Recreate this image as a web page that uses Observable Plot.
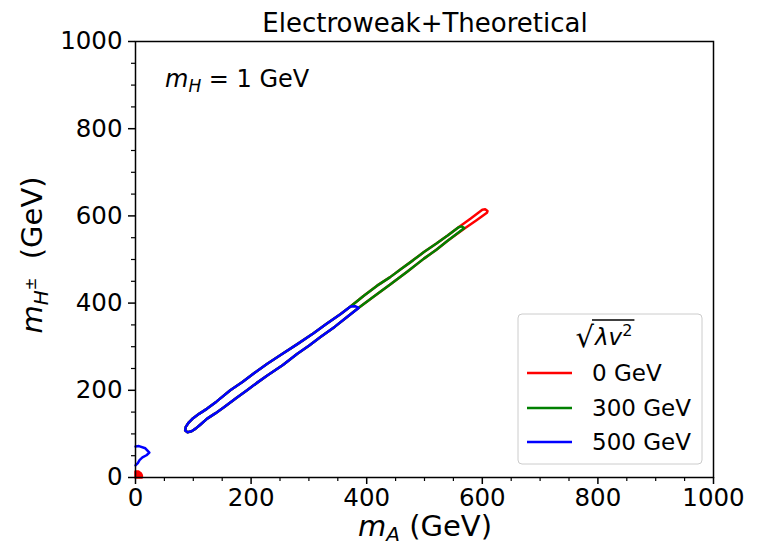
<!DOCTYPE html>
<html><head><meta charset="utf-8">
<script src="https://cdn.jsdelivr.net/npm/d3@7"></script>
<script src="https://cdn.jsdelivr.net/npm/@observablehq/plot@0.6"></script>
<style>body{margin:0;background:#fff} svg{display:block}</style>
</head><body><div id="chart"></div>
<script>
const chartTitle = "Electroweak+Theoretical";
const legendLabels = ["0 GeV", "300 GeV", "500 GeV"];
const seriesColors = ["#ff0000", "#008000", "#0000ff"];
const majorTicks = [0, 200, 400, 600, 800, 1000];
const minorTicks = [50,100,150,250,300,350,450,500,550,650,700,750,850,900,950];

// lambda v^2 = 0 GeV contour (band)
const redX = [86,87,92,98,110,124,140,164,185,205,228,251,280,308,330,355,372,395,418,440,460,480,499,520,540,559,580,600,605,609,608,590,568,540,520,499,470,440,410,385,366,345,320,300,280,255,228,210,193,175,153,138,124,112,104,97,90,86];
const redY = [108,116,126,134,146,158,174,200,219,239,261,281,306,331,352,375,392,417,440,459,479,498,517,536,555,574,594,614,615,611,607,590,570,543,522,502,472,442,413,388,368,346,322,302,284,258,234,217,200,183,161,147,135,121,112,106,104,108];
// lambda v^2 = 0 GeV small region at origin
const redDotX = [0,0,5,9,11,11,0];
const redDotY = [0,14,14,10,5,0,0];
// 300 GeV contour
const greenX = [86,87,92,98,110,124,140,164,185,205,228,251,280,308,330,355,372,395,418,440,460,480,499,520,540,559,564,569,540,520,499,470,440,410,385,366,345,320,300,280,255,228,210,193,175,153,138,124,112,104,97,90,86];
const greenY = [108,116,126,134,146,158,174,200,219,239,261,281,306,331,352,375,392,417,440,459,479,498,517,536,555,574,576,572,543,522,502,472,442,413,388,368,346,322,302,284,258,234,217,200,183,161,147,135,121,112,106,104,108];
// 500 GeV contour
const blueX = [86,87,92,98,110,124,140,164,185,205,228,251,280,308,330,355,372,380,386,366,345,320,300,280,255,228,210,193,175,153,138,124,112,104,97,90,86];
const blueY = [108,116,126,134,146,158,174,200,219,239,261,281,306,331,352,375,392,393,389,368,346,322,302,284,258,234,217,200,183,161,147,135,121,112,106,104,108];
const blueBlobX = [0,6,17,24,19,12,7,4,0];
const blueBlobY = [71,72,67,57,51,46,40,33,28];

const pts = (xs, ys) => xs.map((x, i) => ({x, y: ys[i]}));
const lineOpts = {x: "x", y: "y", strokeWidth: 2.5, strokeLinejoin: "round", strokeLinecap: "round"};
const fmt = d => String(d);

const plot = Plot.plot({
  width: 765, height: 548,
  marginLeft: 135, marginRight: 52, marginTop: 41, marginBottom: 71,
  style: {fontFamily: "DejaVu Sans", fontSize: "24px", color: "black", background: "white"},
  x: {domain: [0, 1000]},
  y: {domain: [0, 1000]},
  marks: [
    Plot.line(pts(redX, redY), {...lineOpts, stroke: seriesColors[0]}),
    Plot.line(pts(redDotX, redDotY), {...lineOpts, stroke: seriesColors[0], fill: seriesColors[0]}),
    Plot.line(pts(greenX, greenY), {...lineOpts, stroke: seriesColors[1]}),
    Plot.line(pts(blueX, blueY), {...lineOpts, stroke: seriesColors[2]}),
    Plot.line(pts(blueBlobX, blueBlobY), {...lineOpts, stroke: seriesColors[2]}),
    Plot.frame({stroke: "black", strokeWidth: 1.5}),
    Plot.axisX({ticks: majorTicks, tickFormat: fmt, tickSize: 7, tickPadding: 4, strokeWidth: 1.5, label: null, fontSize: 24.5}),
    Plot.axisX({ticks: minorTicks, tickSize: 4, tickFormat: () => "", strokeWidth: 1.2, label: null}),
    Plot.axisY({ticks: majorTicks, tickFormat: fmt, tickSize: 7, tickPadding: 6, strokeWidth: 1.5, label: null, fontSize: 24.5}),
    Plot.axisY({ticks: minorTicks, tickSize: 4, tickFormat: () => "", strokeWidth: 1.2, label: null})
  ]
});
document.getElementById("chart").appendChild(plot);

const svg = d3.select(plot);
const ff = "DejaVu Sans";
const txt = (sel, x, y, size, anchor) => sel.append("text").attr("x", x).attr("y", y)
  .attr("text-anchor", anchor).attr("font-family", ff).attr("font-size", size).attr("fill", "black");

// title
txt(svg, 425, 32, 26, "middle").text(chartTitle);

// x label
const xl = txt(svg, 425, 536, 29, "middle");
xl.append("tspan").attr("font-style", "italic").text("m");
xl.append("tspan").attr("font-style", "italic").attr("font-size", 20).attr("dy", 5).text("A");
xl.append("tspan").attr("dy", -5).text(" (GeV)");

// y label
const yl = svg.append("text").attr("transform", "translate(42,255) rotate(-90)").attr("text-anchor", "middle")
  .attr("font-family", ff).attr("font-size", 29).attr("fill", "black");
yl.append("tspan").attr("font-style", "italic").text("m");
yl.append("tspan").attr("font-style", "italic").attr("font-size", 20).attr("dy", 6).text("H");
yl.append("tspan").attr("font-size", 15).attr("dy", -12).text("±");
yl.append("tspan").attr("dy", 6).text("  (GeV)");

// annotation
const an = txt(svg, 165, 87, 24, "start");
an.append("tspan").attr("font-style", "italic").text("m");
an.append("tspan").attr("font-style", "italic").attr("font-size", 17).attr("dy", 5).text("H");
an.append("tspan").attr("dy", -5).text(" = 1 GeV");

// legend
const lg = svg.append("g");
lg.append("rect").attr("x", 518).attr("y", 314).attr("width", 184).attr("height", 150)
  .attr("rx", 4).attr("fill", "white").attr("fill-opacity", 0.8).attr("stroke", "#cccccc").attr("stroke-width", 1);
txt(lg, 594, 347, 29, "end").text("√");
const lt = txt(lg, 595, 345, 23, "start");
lt.append("tspan").attr("font-style", "italic").text("λv");
lt.append("tspan").attr("font-size", 16).attr("dy", -9).text("2");
const bb = lt.node().getBBox();
lg.append("line").attr("x1", 592).attr("x2", bb.x + bb.width + 2).attr("y1", 320).attr("y2", 320)
  .attr("stroke", "black").attr("stroke-width", 1.3);
const rowsY = [373, 408, 442];
legendLabels.forEach((lab, i) => {
  lg.append("line").attr("x1", 527).attr("x2", 572).attr("y1", rowsY[i]).attr("y2", rowsY[i])
    .attr("stroke", seriesColors[i]).attr("stroke-width", 2.5);
  txt(lg, 592, rowsY[i] + 8, 23, "start").text(lab);
});
</script>
</body></html>
